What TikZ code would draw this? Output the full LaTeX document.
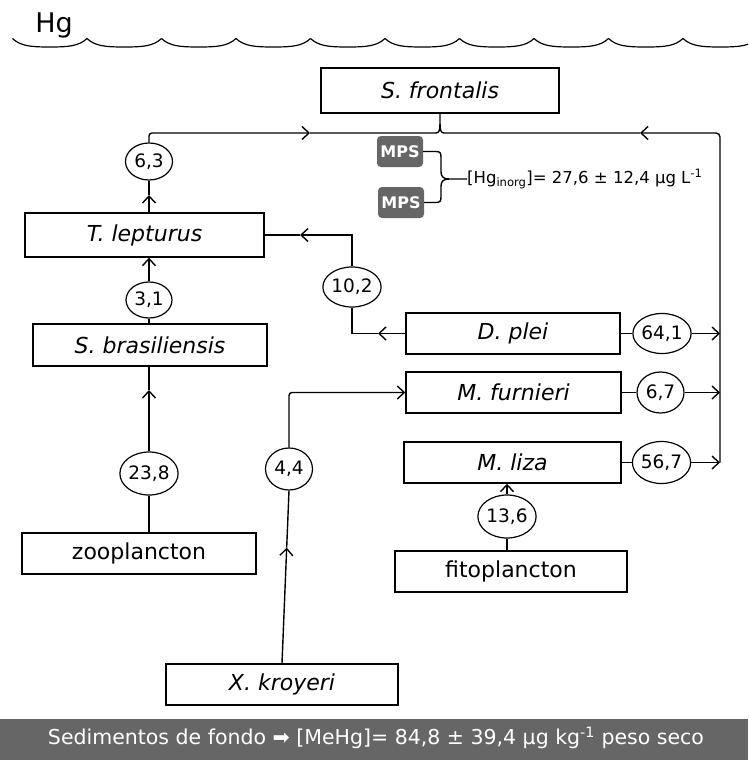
\documentclass[tikz,border=0pt]{standalone}
\usepackage{fontspec}
\setmainfont{DejaVu Sans}
\usetikzlibrary{arrows.meta,calc,shapes.geometric}
\definecolor{gbox}{HTML}{666666}
\begin{document}
\begin{tikzpicture}[x=1pt,y=-1pt,
  box/.style={draw,line width=1.4pt,minimum height=41pt,inner sep=0pt,font=\fontsize{22}{24}\selectfont},
  num/.style={ellipse,draw,line width=1.2pt,minimum width=47pt,minimum height=40pt,inner sep=0pt,font=\fontsize{18.5}{19}\selectfont},
  con/.style={line width=1.4pt},
  arr/.style={con,-{Straight Barb[length=7pt,width=13pt]}},
  mps/.style={fill=gbox,rounded corners=4pt,minimum width=46pt,minimum height=31pt,inner sep=0pt,text=white,font=\bfseries\fontsize{16}{17}\selectfont}
]
\useasboundingbox (0,0) rectangle (748,760);

% title and water surface
\node[font=\fontsize{27}{30}\selectfont,inner sep=0pt] (hg) at (54,25) {Hg};
\begin{scope}
\clip (0,0) rectangle (748,760);
\foreach \k in {0,...,10}{
  \pgfmathsetmacro\xa{12.5+74.5*\k}
  \draw[con,line width=1.2pt] (\xa,38.5) .. controls ({\xa+8},46) and ({\xa+18},47) .. ({\xa+37.25},47)
     .. controls ({\xa+56.5},47) and ({\xa+66.5},46) .. ({\xa+74.5},38.5);
}
\end{scope}

% boxes
\node[box,minimum width=238pt,minimum height=45pt] (sf) at (440,90.5) {\itshape S. frontalis};
\node[box,minimum width=239pt,minimum height=44pt] (tl) at (144.5,235) {\itshape T. lepturus};
\node[box,minimum width=234pt,minimum height=42pt] (sb) at (150,345) {\itshape S. brasiliensis};
\node[box,minimum width=234pt] (zoo) at (139,553.5) {zooplancton};
\node[box,minimum width=232pt] (xk) at (282,684.5) {\itshape X. kroyeri};
\node[box,minimum width=214pt] (dp) at (513,333.5) {\itshape D. plei};
\node[box,minimum width=215pt] (mf) at (513.5,392.5) {\itshape M. furnieri};
\node[box,minimum width=217pt] (ml) at (512.5,462.5) {\itshape M. liza};
\node[box,minimum width=232pt] (fito) at (511,571.5) {fitoplancton};

% values
\node[num,minimum width=47pt,minimum height=37pt] (c63) at (149,161.5) {6,3};
\node[num,minimum width=46pt,minimum height=36pt] (c31) at (149,300) {3,1};
\node[num,minimum height=43pt] (c238) at (149,473.5) {23,8};
\node[num] (c102) at (352,287) {10,2};
\node[num] (c641) at (662,333.5) {64,1};
\node[num,minimum height=41pt] (c67) at (660.5,392.5) {6,7};
\node[num,minimum width=48pt,minimum height=42pt] (c567) at (661.5,462.5) {56,7};
\node[num,minimum height=42pt] (c44) at (289,469) {4,4};
\node[num,minimum width=48pt,minimum height=43pt] (c136) at (507,516.5) {13,6};

% MPS and inorganic Hg
\node[mps] (m1) at (400,151.5) {MPS};
\node[mps] (m2) at (401,202.5) {MPS};
\node[anchor=west,inner sep=0pt,font=\fontsize{16.5}{18}\selectfont] (hgi) at (467,179)
  {[Hg\textsubscript{inorg}]= 27,6 ± 12,4 μg L\textsuperscript{-1}};

% coordinates
\coordinate (bt) at (440,124);
\coordinate (a1) at (310,133);
\coordinate (a2) at (640,133);
\coordinate (tk) at (720,133);
\coordinate (a3) at (149,195);
\coordinate (a5) at (149,390);
\coordinate (a6) at (378,333.5);
\coordinate (a7) at (300,235);
\coordinate (a9) at ($(xk.north)!0.67!(c44.south)$);

% top collector into S. frontalis
\draw[arr,rounded corners=3pt] (c63.north) |- (a1);
\draw[con] (a1) -- (436,133) .. controls (439,133) and (440,130) .. (bt) -- (sf.south);
\draw[arr,rounded corners=4pt] (c567.east -| tk) -- (tk) -- (a2);
\draw[con] (a2) -- (444,133) .. controls (441,133) and (440,130) .. (bt);

% right trunk inputs
\draw[con] (dp.east) -- (c641.west);
\draw[arr] (c641.east) -- (c641.east -| tk);
\draw[con] (mf.east) -- (c67.west);
\draw[arr] (c67.east) -- (c67.east -| tk);
\draw[con] (ml.east) -- (c567.west);
\draw[arr] (c567.east) -- (c567.east -| tk);

% left column
\draw[arr] (c63.south |- tl.north) -- (a3);
\draw[con] (a3) -- (c63.south);
\draw[con] (c31.south |- sb.north) -- (c31.south);
\draw[arr] (c31.north) -- (c31.north |- tl.south);
\draw[con] (c238.south |- zoo.north) -- (c238.south);
\draw[arr] (c238.north) -- (a5);
\draw[con] (a5) -- (c238.north |- sb.south);

% D. plei to T. lepturus
\draw[arr] (dp.west) -- (a6);
\draw[con] (a6) -| (c102.south);
\draw[arr] (c102.north) |- (a7);
\draw[con] (a7) -- (tl.east);

% X. kroyeri to M. furnieri
\draw[arr] (xk.north) -- (a9);
\draw[con] (a9) -- (c44.south);
\draw[arr,rounded corners=3pt] (c44.north) |- (mf.west);

% fitoplancton to M. liza
\draw[con] (c136.south |- fito.north) -- (c136.south);
\draw[arr] (c136.north) -- (c136.north |- ml.south);

% brace from MPS
\draw[con] (m1.east) -- (436,151.5) .. controls (440,151.5) and (441,153) .. (441,157) -- (441,172)
   .. controls (441,177) and (444,179) .. (449,179) -- (hgi.west);
\draw[con] (m2.east) -- (436,202.5) .. controls (440,202.5) and (441,201) .. (441,197) -- (441,186)
   .. controls (441,181) and (444,179) .. (449,179);

% sediment band
\fill[gbox] (0,719) rectangle (748,760);
\node[text=white,inner sep=0pt,font=\fontsize{20.5}{22}\selectfont] (sed) at (376,738)
  {Sedimentos de fondo ➡ [MeHg]= 84,8 ± 39,4 μg kg\textsuperscript{-1} peso seco};
\end{tikzpicture}
\end{document}
